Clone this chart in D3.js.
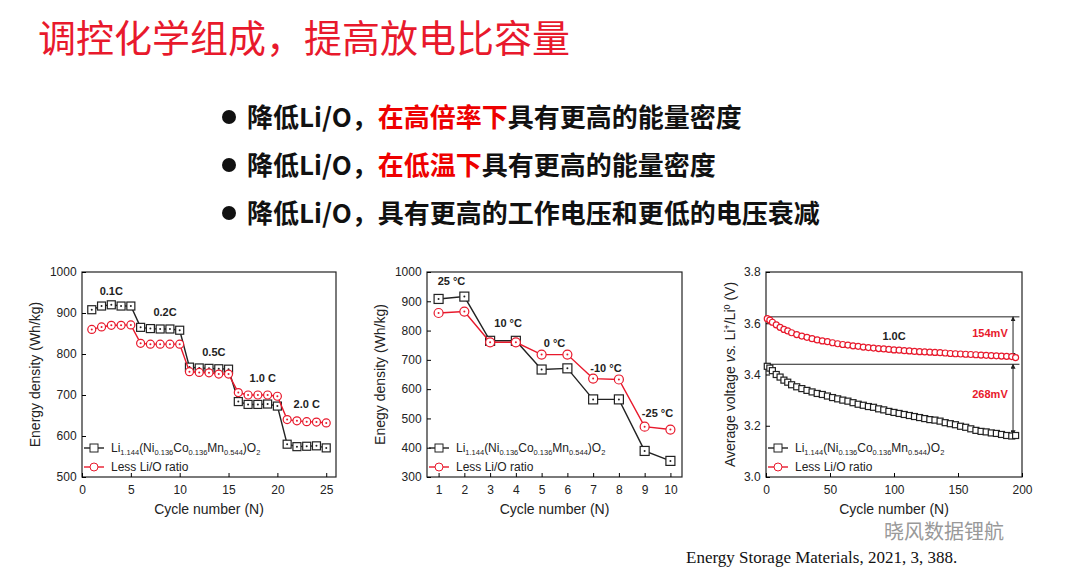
<!DOCTYPE html><html><head><meta charset="utf-8"><script src="https://cdn.jsdelivr.net/npm/d3@7"></script>
<style>body{margin:0;background:#fff}svg{font-family:Arial,"Liberation Sans",sans-serif}</style></head><body><svg id="s" width="1080" height="568"></svg>
<script>
const rateCycles=d3.range(1,26);
const rateBase=[908,917,920,917,917,865,862,861,861,858,768,766,765,764,763,684,677,677,678,673,580,574,575,576,571];
const rateLess=[860,866,870,870,871,826,824,824,824,824,757,755,754,751,751,706,700,700,700,697,640,637,635,634,632];
const rateLabels=[["0.1C",3,945],["0.2C",8.5,893],["0.5C",13.5,795],["1.0 C",18.5,731],["2.0 C",23,668]];
const tempCycles=d3.range(1,11);
const tempBase=[908,916,765,765,667,671,565,565,389,355];
const tempLess=[860,865,760,760,718,718,636,633,472,462];
const tempLabels=[["25 °C",1.5,955],["10 °C",3.7,812],["0 °C",5.5,743],["-10 °C",7.5,657],["-25 °C",9.5,505]];
const voltCycles=[1,3,5,8,11,14,17,20,24,28,32,36,40,44,48,52,56,60,64,68,72,76,80,84,88,92,96,100,104,108,112,116,120,124,128,132,136,140,144,148,152,156,160,164,168,172,176,180,184,188,192,195];
const voltBase=[3.432,3.425,3.415,3.40,3.39,3.378,3.37,3.36,3.352,3.345,3.338,3.332,3.326,3.322,3.316,3.31,3.305,3.30,3.296,3.29,3.284,3.28,3.275,3.272,3.266,3.262,3.256,3.252,3.248,3.244,3.24,3.236,3.232,3.228,3.224,3.222,3.218,3.212,3.208,3.204,3.198,3.194,3.188,3.182,3.178,3.176,3.172,3.17,3.166,3.162,3.16,3.162];
const voltLess=[3.618,3.612,3.604,3.594,3.584,3.576,3.57,3.563,3.556,3.55,3.545,3.54,3.535,3.531,3.528,3.524,3.52,3.517,3.515,3.512,3.51,3.507,3.505,3.503,3.501,3.5,3.498,3.496,3.495,3.493,3.492,3.49,3.489,3.488,3.487,3.486,3.485,3.484,3.482,3.481,3.48,3.479,3.478,3.477,3.476,3.475,3.474,3.473,3.472,3.471,3.47,3.466];
const s=d3.select("#s");
s.append("text").attr("x",38).attr("y",52).attr("fill","#e8192c").attr("font-size",38).attr("font-family","Noto Sans CJK SC").text("调控化学组成，提高放电比容量");
const bullets=[[["降低Li/O，","#111"],["在高倍率下","#e00"],["具有更高的能量密度","#111"]],[["降低Li/O，","#111"],["在低温下","#e00"],["具有更高的能量密度","#111"]],[["降低Li/O，具有更高的工作电压和更低的电压衰减","#111"]]];
bullets.forEach((b,i)=>{const y=127+i*48;
 s.append("circle").attr("cx",229).attr("cy",y-10).attr("r",7).attr("fill","#111");
 const t=s.append("text").attr("x",247).attr("y",y).attr("font-size",26).attr("font-weight","bold").attr("font-family","Noto Sans CJK SC");
 b.forEach(p=>t.append("tspan").attr("fill",p[1]).text(p[0]));});
s.append("text").attr("x",686).attr("y",563).attr("font-size",17).attr("font-family","Liberation Serif").attr("fill","#111").text("Energy Storage Materials, 2021, 3, 388.");
s.append("text").attr("x",884).attr("y",539).attr("font-size",20).attr("fill","#999").attr("font-family","Noto Sans CJK SC").text("晓风数据锂航");
function panel(o){
 const g=s.append("g");
 const x=d3.scaleLinear().domain(o.xd).range([o.l,o.r]);
 const y=d3.scaleLinear().domain(o.yd).range([477,272]);
 g.append("rect").attr("x",o.l).attr("y",272).attr("width",o.r-o.l).attr("height",205).attr("fill","none").attr("stroke","#222").attr("stroke-width",1.2);
 const xa=g.append("g").attr("transform","translate(0,477)").call(d3.axisBottom(x).tickValues(o.xt).tickSize(-4).tickFormat(o.xf||d3.format("d")));
 const ya=g.append("g").attr("transform",`translate(${o.l},0)`).call(d3.axisLeft(y).tickValues(o.yt).tickSize(-4).tickFormat(o.yf||d3.format("d")));
 [xa,ya].forEach(a=>{a.select(".domain").remove();a.selectAll("text").attr("font-size",12).attr("fill","#222");});
 xa.selectAll("text").attr("dy","1.2em");ya.selectAll("text").attr("dx","-0.2em");
 g.append("text").attr("x",(o.l+o.r)/2).attr("y",514).attr("text-anchor","middle").attr("font-size",14).attr("fill","#222").text(o.xl);
 const yt=g.append("text").attr("transform",`translate(${o.yx},374.5) rotate(-90)`).attr("text-anchor","middle").attr("font-size",14).attr("fill","#222");
 o.ylab(yt);
 o.extra&&o.extra(g,x,y);
 [[o.b,"#222","sq"],[o.c,"#e8192c","ci"]].forEach(([v,col,m])=>{
  const pts=o.xs.map((c,i)=>[x(c),y(v[i])]);
  g.append("path").attr("d",d3.line()(pts)).attr("fill","none").attr("stroke",col).attr("stroke-width",o.lw||1.4);
  pts.forEach(p=>{const ms=o.ms;
   if(m=="sq")g.append("rect").attr("x",p[0]-ms).attr("y",p[1]-ms).attr("width",2*ms).attr("height",2*ms).attr("fill","#fff").attr("stroke",col).attr("stroke-width",1.2);
   else g.append("circle").attr("cx",p[0]).attr("cy",p[1]).attr("r",ms).attr("fill","#fff").attr("stroke",col).attr("stroke-width",1.2);
   if(o.dot)g.append("circle").attr("cx",p[0]).attr("cy",p[1]).attr("r",1).attr("fill",col);});
 });
 (o.labels||[]).forEach(L=>g.append("text").attr("x",x(L[1])).attr("y",y(L[2])).attr("text-anchor","middle").attr("font-size",11).attr("font-weight","bold").attr("fill","#222").text(L[0]));
 const lx=o.l+2;
 [[448,"#222","sq"],[467,"#e8192c","ci"]].forEach(([ly,col,m],i)=>{
  g.append("line").attr("x1",lx).attr("x2",lx+20).attr("y1",ly).attr("y2",ly).attr("stroke",col).attr("stroke-width",1.4);
  if(m=="sq")g.append("rect").attr("x",lx+6).attr("y",ly-4).attr("width",8).attr("height",8).attr("fill","#fff").attr("stroke",col);
  else g.append("circle").attr("cx",lx+10).attr("cy",ly).attr("r",4).attr("fill","#fff").attr("stroke",col);
  const t=g.append("text").attr("x",lx+27).attr("y",ly+4).attr("font-size",12).attr("fill","#222");
  if(i==0){[["Li",0],["1.144",1],["(Ni",0],["0.136",1],["Co",0],["0.136",1],["Mn",0],["0.544",1],[")O",0],["2",1]].forEach(([tx,sb],k)=>{
    t.append("tspan").text(tx).attr("font-size",sb?7.5:12).attr("dy",sb?3:(k==0?0:-3));});}
  else t.text("Less Li/O ratio");
 });
}
panel({l:82,r:336,xd:[0,26],yd:[500,1000],xt:[0,5,10,15,20,25],yt:[500,600,700,800,900,1000],xs:rateCycles,b:rateBase,c:rateLess,ms:4,dot:true,labels:rateLabels,xl:"Cycle number (N)",yx:40,ylab:t=>t.text("Energy density (Wh/kg)")});
panel({l:427,r:682,xd:[0.55,10.45],yd:[300,1000],xt:tempCycles,yt:[300,400,500,600,700,800,900,1000],xs:tempCycles,b:tempBase,c:tempLess,ms:4.5,dot:true,labels:tempLabels,xl:"Cycle number (N)",yx:385,ylab:t=>t.text("Enegy density (Wh/kg)")});
panel({l:766,r:1022,xd:[0,200],yd:[3.0,3.8],xt:[0,50,100,150,200],yt:[3.0,3.2,3.4,3.6,3.8],yf:d3.format(".1f"),xs:voltCycles,b:voltBase,c:voltLess,ms:3,lw:1,xl:"Cycle number (N)",yx:735,
 ylab:t=>{t.append("tspan").text("Average voltage ");t.append("tspan").attr("font-style","italic").text("vs. ");t.append("tspan").text("Li");t.append("tspan").attr("font-size",9).attr("dy",-5).text("+");t.append("tspan").attr("dy",5).text("/Li");t.append("tspan").attr("font-size",9).attr("dy",-5).text("0");t.append("tspan").attr("dy",5).text(" (V)");},
 extra:(g,x,y)=>{
  [3.625,3.44].forEach(v=>g.append("line").attr("x1",x(0)).attr("x2",x(198)).attr("y1",y(v)).attr("y2",y(v)).attr("stroke","#222").attr("stroke-width",1));
  const ax=x(193);
  const defs=s.append("defs");defs.append("marker").attr("id","ar").attr("viewBox","0 0 10 10").attr("refX",9).attr("refY",5).attr("markerWidth",5).attr("markerHeight",5).attr("orient","auto-start-reverse").append("path").attr("d","M0,0L10,5L0,10z").attr("fill","#222");
  [[3.625,3.466],[3.44,3.165]].forEach(([a,b])=>g.append("line").attr("x1",ax).attr("x2",ax).attr("y1",y(a)).attr("y2",y(b)).attr("stroke","#222").attr("marker-start","url(#ar)").attr("marker-end","url(#ar)"));
  g.append("text").attr("x",x(175)).attr("y",y(3.545)).attr("text-anchor","middle").attr("fill","#e8192c").attr("font-size",11).attr("font-weight","bold").text("154mV");
  g.append("text").attr("x",x(175)).attr("y",y(3.31)).attr("text-anchor","middle").attr("fill","#e8192c").attr("font-size",11).attr("font-weight","bold").text("268mV");
  g.append("text").attr("x",x(100)).attr("y",y(3.535)).attr("text-anchor","middle").attr("fill","#222").attr("font-size",11).attr("font-weight","bold").text("1.0C");
 }});
</script></body></html>
